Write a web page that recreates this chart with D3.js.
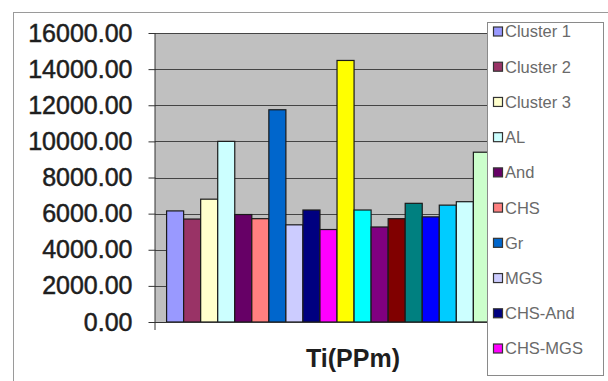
<!DOCTYPE html>
<html>
<head>
<meta charset="utf-8">
<script src="https://cdn.jsdelivr.net/npm/d3@7"></script>
<style>
  html, body { margin: 0; padding: 0; background: #fff; }
  svg { display: block; }
</style>
</head>
<body>
<svg id="chart" width="608" height="381"></svg>
<script>
// ---- data ----
const category = "Ti(PPm)";
const seriesNames = ["Cluster 1","Cluster 2","Cluster 3","AL","And","CHS","Gr","MGS","CHS-And","CHS-MGS",
  "S11","S12","S13","S14","S15","S16","S17","S18","S19"];
const seriesValues = [6150, 5700, 6800, 10000, 5950, 5720, 11750, 5380, 6200, 5120,
  14480, 6200, 5260, 5720, 6570, 5820, 6470, 6660, 9400];
const seriesColors = ["#9999FF","#993366","#FFFFCC","#CCFFFF","#660066","#FF8080","#0066CC","#CCCCFF","#000080","#FF00FF",
  "#FFFF00","#00FFFF","#800080","#800000","#008080","#0000FF","#00CCFF","#CCFFFF","#CCFFCC"];
const yTicks = [0, 2000, 4000, 6000, 8000, 10000, 12000, 14000, 16000];
const legendShown = 10;

// ---- layout ----
const svg = d3.select("#chart");
const plot = { left: 155, right: 502, top: 33, bottom: 322 };

// chart area border (left and top visible)
svg.append("rect").attr("x", 13.5).attr("y", 12.5).attr("width", 620).attr("height", 400)
  .attr("fill", "#fff").attr("stroke", "#9a9a9a").attr("stroke-width", 1);

const y = d3.scaleLinear().domain([0, 16000]).range([plot.bottom, plot.top]);
const x = d3.scaleBand().domain(seriesNames).range([plot.left, plot.right]).paddingOuter(0.68).paddingInner(0);

// plot area background
svg.append("rect").attr("x", plot.left).attr("y", plot.top)
  .attr("width", plot.right - plot.left).attr("height", plot.bottom - plot.top)
  .attr("fill", "#C0C0C0");

// gridlines
svg.append("g").selectAll("line").data(yTicks.filter(d => d > 0)).join("line")
  .attr("x1", plot.left).attr("x2", plot.right)
  .attr("y1", d => Math.round(y(d)) + 0.5).attr("y2", d => Math.round(y(d)) + 0.5)
  .attr("stroke", "#444").attr("stroke-width", 1);

// bars
svg.append("g").selectAll("rect").data(seriesNames).join("rect")
  .attr("x", (d) => x(d))
  .attr("y", (d, i) => y(seriesValues[i]))
  .attr("width", x.bandwidth())
  .attr("height", (d, i) => y(0) - y(seriesValues[i]))
  .attr("fill", (d, i) => seriesColors[i])
  .attr("stroke", "#1a1a1a").attr("stroke-width", 1.2);

// y axis
const yAxis = d3.axisLeft(y).tickValues(yTicks).tickFormat(d3.format(".2f")).tickSize(7).tickPadding(16);
const gy = svg.append("g").attr("transform", `translate(${plot.left + 0.5},0)`).call(yAxis);
gy.select(".domain").attr("stroke", "#333").attr("d", `M-0.5,${plot.top}V${plot.bottom + 8}`);
gy.selectAll(".tick line").attr("stroke", "#333");
gy.selectAll(".tick text").attr("font-family", "Liberation Sans, Arial, sans-serif")
  .attr("font-size", 25).attr("fill", "#1e1e1e")
  .attr("stroke", "#1e1e1e").attr("stroke-width", 0.5);

// x axis line
svg.append("line").attr("x1", plot.left).attr("x2", plot.right)
  .attr("y1", plot.bottom + 0.5).attr("y2", plot.bottom + 0.5).attr("stroke", "#333");

// x axis title
svg.append("text").attr("x", 353).attr("y", 367).attr("text-anchor", "middle")
  .attr("font-family", "Liberation Sans, Arial, sans-serif").attr("font-weight", "bold")
  .attr("font-size", 25).attr("fill", "#1e1e1e").text(category);

// legend
const lg = svg.append("g");
lg.append("rect").attr("x", 487.5).attr("y", 22.5).attr("width", 116).attr("height", 353)
  .attr("fill", "#fff").attr("stroke", "#8a8a8a");
const ly = d3.scalePoint().domain(seriesNames.slice(0, legendShown)).range([31.5, 348.5]);
const items = lg.selectAll("g.item").data(seriesNames.slice(0, legendShown)).join("g")
  .attr("class", "item").attr("transform", d => `translate(0,${ly(d)})`);
items.append("rect").attr("x", 493.5).attr("y", -4.5).attr("width", 9).attr("height", 9)
  .attr("fill", (d, i) => seriesColors[i]).attr("stroke", "#333").attr("stroke-width", 1.2);
items.append("text").attr("x", 505).attr("y", 0).attr("dy", "0.36em")
  .attr("font-family", "Liberation Sans, Arial, sans-serif").attr("font-size", 16.5)
  .attr("fill", "#6a6a6a").text(d => d);
</script>
</body>
</html>
